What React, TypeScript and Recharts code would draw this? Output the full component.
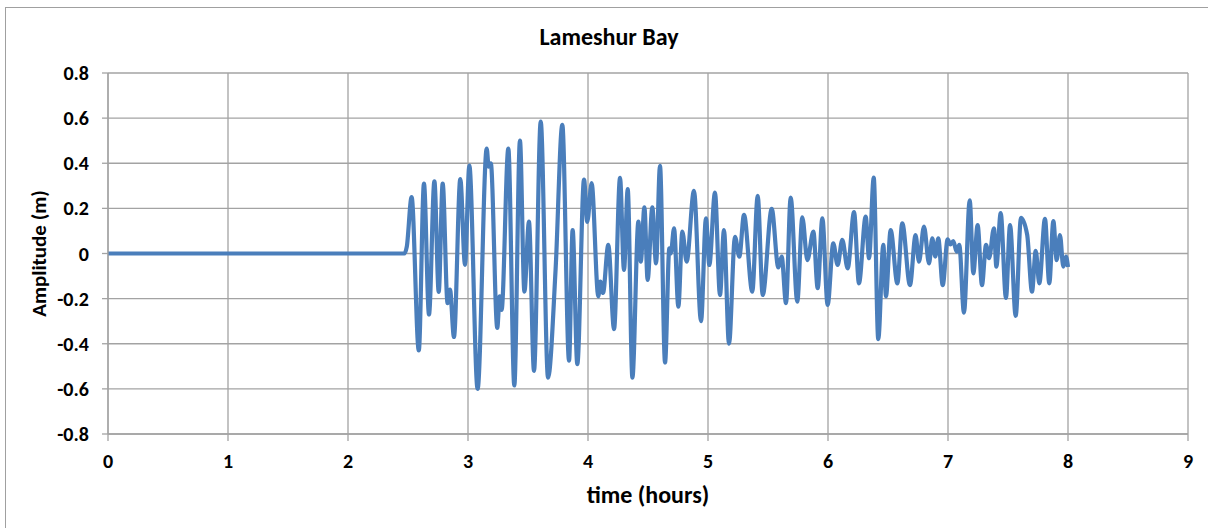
import React from 'react';
import { LineChart, Line, XAxis, YAxis, CartesianGrid, Label } from 'recharts';

const times = [
  0, 2.47, 2.49, 2.53, 2.59, 2.633, 2.675, 2.72, 2.756, 2.789, 2.83, 2.85, 2.883, 2.936, 2.975,
  3.011, 3.08, 3.156, 3.172, 3.19, 3.244, 3.264, 3.28, 3.336, 3.386, 3.433, 3.47, 3.508, 3.55,
  3.606, 3.667, 3.73, 3.786, 3.842, 3.872, 3.911, 3.967, 3.994, 4.03, 4.086, 4.103, 4.125, 4.169,
  4.217, 4.267, 4.3, 4.331, 4.37, 4.42, 4.44, 4.47, 4.497, 4.536, 4.567, 4.6, 4.642, 4.678, 4.69,
  4.717, 4.753, 4.786, 4.822, 4.883, 4.942, 4.983, 5.011, 5.058, 5.1, 5.133, 5.175, 5.225, 5.261,
  5.3, 5.369, 5.414, 5.456, 5.531, 5.586, 5.614, 5.65, 5.689, 5.744, 5.786, 5.828, 5.878, 5.914,
  5.953, 5.997, 6.044, 6.08, 6.119, 6.164, 6.217, 6.258, 6.314, 6.342, 6.381, 6.419, 6.461, 6.483,
  6.522, 6.578, 6.619, 6.683, 6.73, 6.758, 6.8, 6.842, 6.869, 6.894, 6.919, 6.956, 6.997, 7.02,
  7.044, 7.072, 7.094, 7.133, 7.181, 7.211, 7.247, 7.283, 7.317, 7.342, 7.383, 7.403, 7.439,
  7.483, 7.517, 7.564, 7.608, 7.66, 7.7, 7.731, 7.761, 7.808, 7.844, 7.878, 7.906, 7.933, 7.961,
  7.983, 8.0,
];

const amplitude = [
  0, 0, 0.03, 0.25, -0.43, 0.31, -0.27, 0.32, -0.17, 0.31, -0.22, -0.16, -0.37, 0.33, -0.05,
  0.39, -0.6, 0.465, 0.385, 0.4, -0.33, -0.19, -0.25, 0.465, -0.585, 0.5, -0.169, 0.141, -0.52,
  0.585, -0.55, -0.07, 0.57, -0.475, 0.104, -0.49, 0.328, 0.14, 0.312, -0.19, -0.125, -0.175, 0.038,
  -0.335, 0.335, -0.073, 0.285, -0.55, 0.141, -0.036, 0.205, -0.117, 0.205, -0.044, 0.388, -0.483, 0.023, 0.0,
  0.112, -0.236, 0.097, -0.036, 0.278, -0.3, 0.156, -0.051, 0.27, -0.184, 0.104, -0.4, 0.074, -0.014,
  0.171, -0.169, 0.255, -0.184, 0.198, -0.062, -0.014, -0.22, 0.248, -0.213, 0.16, -0.029, 0.097, -0.154,
  0.156, -0.228, 0.045, -0.051, 0.06, -0.066, 0.183, -0.132, 0.164, -0.021, 0.336, -0.38, 0.038, -0.19,
  0.104, -0.132, 0.134, -0.14, 0.082, -0.036, 0.119, -0.044, 0.067, -0.014, 0.067, -0.14, 0.063, 0.04,
  0.055, 0.008, 0.038, -0.262, 0.236, -0.088, 0.126, -0.14, 0.038, -0.021, 0.112, -0.058, 0.179,
  -0.197, 0.126, -0.277, 0.158, 0.082, -0.169, 0.012, -0.132, 0.154, -0.132, 0.144, -0.029, 0.082, -0.058,
  -0.014, -0.06,
];

const xTicks = [0, 1, 2, 3, 4, 5, 6, 7, 8, 9];
const yTicks = [-0.8, -0.6, -0.4, -0.2, 0, 0.2, 0.4, 0.6, 0.8];

const data = times.map((t, i) => ({ t, amp: amplitude[i] }));

const FONT = 'Carlito, Calibri, "Liberation Sans", Arial, sans-serif';
const GRID = '#a3a3a3';
const tickStyle = { fontFamily: FONT, fontSize: 20, fontWeight: 700, fill: '#000' };

const fmtY = (v: number) => (v === 0 ? '0' : v.toFixed(1));

export default function App() {
  return (
    <div style={{ position: 'absolute', left: 0, top: 0, width: 1208, height: 528, overflow: 'hidden', background: '#fff' }}>
      {/* chart frame, runs off the right and bottom edges */}
      <div style={{ position: 'absolute', left: 5, top: 7, width: 1400, height: 700, border: '1.5px solid #a0a0a0' }} />
      <div style={{
        position: 'absolute', left: 0, width: 1218, top: 22, textAlign: 'center', lineHeight: 'normal',
        fontFamily: FONT, fontSize: 24, fontWeight: 700, color: '#000',
      }}>
        Lameshur Bay
      </div>
      <div style={{ position: 'absolute', left: 0, top: 0 }}>
        <LineChart width={1208} height={528} data={data} margin={{ top: 73, right: 20, bottom: 64, left: 0 }}>
          <CartesianGrid stroke={GRID} strokeWidth={1.3} verticalValues={xTicks} horizontalValues={yTicks} />
          <XAxis
            dataKey="t"
            type="number"
            domain={[0, 9]}
            ticks={xTicks}
            interval={0}
            height={30}
            tickSize={7}
            tickMargin={13}
            axisLine={{ stroke: GRID, strokeWidth: 1.3 }}
            tickLine={{ stroke: GRID, strokeWidth: 1.3 }}
            tick={tickStyle}
          />
          <YAxis
            type="number"
            domain={[-0.8, 0.8]}
            ticks={yTicks}
            interval={0}
            width={108}
            tickSize={6}
            tickMargin={13}
            tickFormatter={fmtY}
            axisLine={{ stroke: GRID, strokeWidth: 1.3 }}
            tickLine={{ stroke: GRID, strokeWidth: 1.3 }}
            tick={tickStyle}
          >
            <Label
              value="Amplitude (m)"
              angle={-90}
              position="insideLeft"
              offset={0}
              dx={39}
              style={{ fontFamily: FONT, fontSize: 21, fontWeight: 700, fill: '#000', textAnchor: 'middle' }}
            />
          </YAxis>
          <Line
            type="monotone"
            dataKey="amp"
            stroke="#4a7ebb"
            strokeWidth={4.2}
            dot={false}
            isAnimationActive={false}
          />
        </LineChart>
      </div>
      <div style={{
        position: 'absolute', left: 108, width: 1080, top: 480, textAlign: 'center', lineHeight: 'normal',
        fontFamily: FONT, fontSize: 24, fontWeight: 700, color: '#000',
      }}>
        time (hours)
      </div>
    </div>
  );
}
